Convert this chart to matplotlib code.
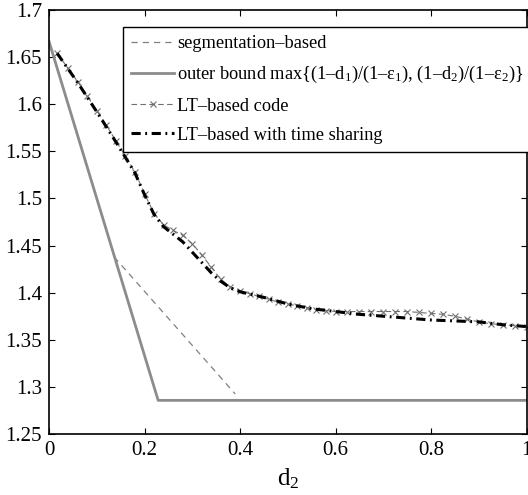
import numpy as np
import matplotlib
matplotlib.use('Agg')
import matplotlib.pyplot as plt

plt.rcParams['font.family'] = ['Liberation Serif', 'DejaVu Serif']
plt.rcParams['mathtext.fontset'] = 'custom'
plt.rcParams['mathtext.rm'] = 'Liberation Serif'
plt.rcParams['mathtext.it'] = 'Liberation Serif'

# outer bound (solid grey)
outer_x = [0.0, 0.2286, 1.0]
outer_y = [1.6667, 1.2857, 1.2857]

# segmentation-based (grey dashed)
seg_x = [0.0, 0.138, 0.39]
seg_y = [1.6667, 1.437, 1.2925]

# LT-based code (grey dashed, star markers)
lt_x = [0.017, 0.04, 0.06, 0.08, 0.10, 0.12, 0.14, 0.16, 0.18, 0.20,
        0.22, 0.24, 0.26, 0.28, 0.30, 0.32, 0.34, 0.36, 0.38, 0.40,
        0.42, 0.44, 0.46, 0.48, 0.50, 0.52, 0.54, 0.56, 0.58, 0.60,
        0.625, 0.65, 0.675, 0.70, 0.725, 0.75, 0.775, 0.80, 0.825, 0.85,
        0.875, 0.90, 0.925, 0.95, 0.975, 1.0]
lt_y = [1.654, 1.638, 1.624, 1.609, 1.593, 1.578, 1.561, 1.545, 1.528, 1.505,
        1.484, 1.472, 1.466, 1.461, 1.452, 1.440, 1.427, 1.414, 1.406, 1.402,
        1.399, 1.396, 1.393, 1.390, 1.388, 1.386, 1.384, 1.382, 1.381, 1.380,
        1.380, 1.380, 1.380, 1.380, 1.380, 1.380, 1.379, 1.378, 1.377, 1.375,
        1.372, 1.369, 1.367, 1.366, 1.365, 1.364]

# LT-based with time sharing (black dash-dot)
ts_x = [0.017, 0.06, 0.10, 0.14, 0.18, 0.20, 0.22, 0.24, 0.26, 0.28,
        0.30, 0.32, 0.34, 0.36, 0.38, 0.40, 0.45, 0.50, 0.55, 0.60,
        0.65, 0.70, 0.75, 0.80, 0.85, 0.90, 0.95, 1.0]
ts_y = [1.654, 1.623, 1.592, 1.560, 1.527, 1.504, 1.483, 1.470, 1.462, 1.454,
        1.443, 1.432, 1.421, 1.412, 1.405, 1.401, 1.395, 1.388, 1.383, 1.380,
        1.377, 1.375, 1.373, 1.371, 1.370, 1.369, 1.366, 1.364]

xticks = [0, 0.2, 0.4, 0.6, 0.8, 1.0]
xticklabels = ['0', '0.2', '0.4', '0.6', '0.8', '1']
yticks = [1.25, 1.3, 1.35, 1.4, 1.45, 1.5, 1.55, 1.6, 1.65, 1.7]
yticklabels = ['1.25', '1.3', '1.35', '1.4', '1.45', '1.5', '1.55', '1.6', '1.65', '1.7']

fig = plt.figure(figsize=(5.28, 4.95), dpi=100)
ax = fig.add_axes([49 / 528, 61 / 495, 477.5 / 528, 424 / 495])

ax.plot(seg_x, seg_y, color='#808080', ls=(0, (5, 4)), lw=0.9,
        label='segmentation–based')
ax.plot(outer_x, outer_y, color='#8c8c8c', ls='-', lw=2.0,
        label='outer bound max{(1–d$_1$)/(1–ε$_1$), (1–d$_2$)/(1–ε$_2$)}')
ax.plot(lt_x, lt_y, color='#707070', ls=(0, (5, 3)), lw=0.8,
        marker='x', ms=4, mew=0.8, label='LT–based code')
ax.plot(ts_x, ts_y, color='black', ls=(0, (3, 1.5, 0.6, 1.5)), lw=2.2,
        label='LT–based with time sharing')

ax.set_xlim(0, 1)
ax.set_ylim(1.25, 1.7)
ax.set_xticks(xticks)
ax.set_xticklabels(xticklabels)
ax.set_yticks(yticks)
ax.set_yticklabels(yticklabels)
ax.tick_params(direction='in', top=True, right=True, length=4, width=0.8,
               labelsize=15, pad=5)
for s in ax.spines.values():
    s.set_linewidth(1.2)
ax.set_xlabel('d$_2$', fontsize=18, labelpad=5)

leg = ax.legend(loc='upper left', bbox_to_anchor=(74 / 477.5, 1 - 17 / 424),
                fontsize=13.2, frameon=True, fancybox=False, framealpha=1,
                edgecolor='black', handlelength=2.35, handletextpad=0.15,
                labelspacing=0.66, borderpad=0.45, borderaxespad=0)
leg.get_frame().set_linewidth(1.0)

fig.savefig('out.png', dpi=100)
